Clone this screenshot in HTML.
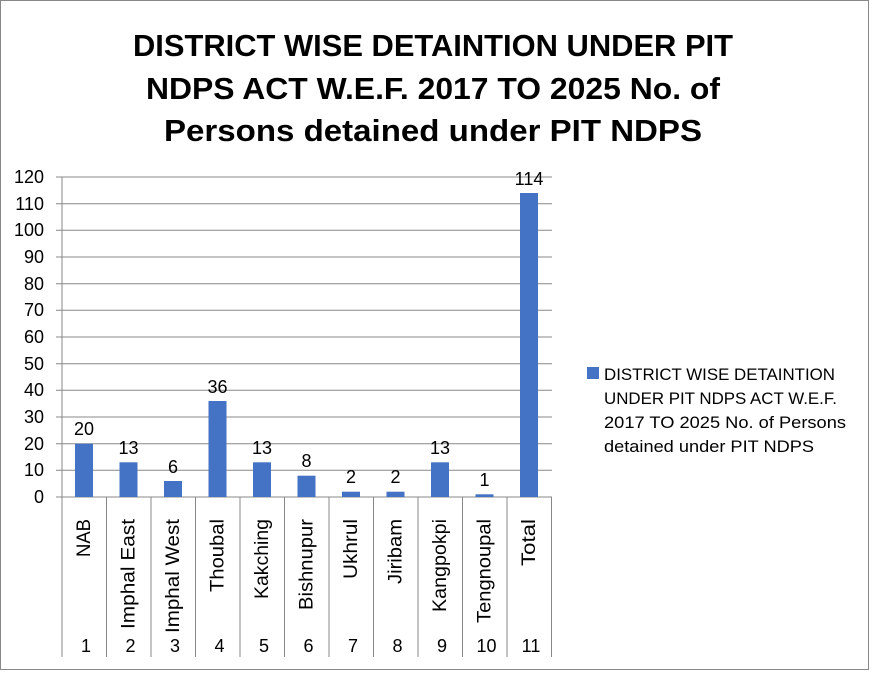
<!DOCTYPE html>
<html><head><meta charset="utf-8"><style>
body{margin:0;background:#fff}
svg{display:block;font-family:"Liberation Sans",Arial,sans-serif}
</style></head><body>
<svg width="873" height="682" viewBox="0 0 873 682" xmlns="http://www.w3.org/2000/svg">
<rect x="0.5" y="0.5" width="868" height="669" fill="#fff" stroke="#888" stroke-width="1"/>
<g font-weight="bold" font-size="31" text-anchor="middle" fill="#000">
<text x="433" y="56" textLength="600" lengthAdjust="spacingAndGlyphs">DISTRICT WISE DETAINTION UNDER PIT</text>
<text x="433" y="99" textLength="574" lengthAdjust="spacingAndGlyphs">NDPS ACT W.E.F. 2017 TO 2025 No. of</text>
<text x="433" y="141" textLength="538" lengthAdjust="spacingAndGlyphs">Persons detained under PIT NDPS</text>
</g>
<g stroke="#888" stroke-width="1">
<line x1="56" y1="177" x2="552" y2="177"/><line x1="56" y1="203.7" x2="552" y2="203.7"/>
<line x1="56" y1="230.3" x2="552" y2="230.3"/><line x1="56" y1="257" x2="552" y2="257"/>
<line x1="56" y1="283.7" x2="552" y2="283.7"/><line x1="56" y1="310.3" x2="552" y2="310.3"/>
<line x1="56" y1="337" x2="552" y2="337"/><line x1="56" y1="363.7" x2="552" y2="363.7"/>
<line x1="56" y1="390.3" x2="552" y2="390.3"/><line x1="56" y1="417" x2="552" y2="417"/>
<line x1="56" y1="443.7" x2="552" y2="443.7"/><line x1="56" y1="470.3" x2="552" y2="470.3"/>
<line x1="56" y1="497" x2="552" y2="497"/>
<line x1="62" y1="177" x2="62" y2="657"/>
<line x1="106.5" y1="497" x2="106.5" y2="657"/><line x1="151" y1="497" x2="151" y2="657"/>
<line x1="195.5" y1="497" x2="195.5" y2="657"/><line x1="240" y1="497" x2="240" y2="657"/>
<line x1="284.5" y1="497" x2="284.5" y2="657"/><line x1="329" y1="497" x2="329" y2="657"/>
<line x1="373.5" y1="497" x2="373.5" y2="657"/><line x1="418" y1="497" x2="418" y2="657"/>
<line x1="462.5" y1="497" x2="462.5" y2="657"/><line x1="507" y1="497" x2="507" y2="657"/>
<line x1="551.5" y1="497" x2="551.5" y2="657"/>
</g>
<g font-size="18" text-anchor="end" fill="#000">
<text x="44" y="183">120</text><text x="44" y="210">110</text><text x="44" y="236">100</text>
<text x="44" y="263">90</text><text x="44" y="290">80</text><text x="44" y="316">70</text>
<text x="44" y="343">60</text><text x="44" y="370">50</text><text x="44" y="396">40</text>
<text x="44" y="423">30</text><text x="44" y="450">20</text><text x="44" y="476">10</text>
<text x="44" y="503">0</text>
</g>
<g fill="#4472C4">
<rect x="75" y="443.7" width="18" height="53.3"/>
<rect x="119.5" y="462.3" width="18" height="34.7"/>
<rect x="164" y="481" width="18" height="16"/>
<rect x="208.5" y="401" width="18" height="96"/>
<rect x="253" y="462.3" width="18" height="34.7"/>
<rect x="297.5" y="475.7" width="18" height="21.3"/>
<rect x="342" y="491.7" width="18" height="5.3"/>
<rect x="386.5" y="491.7" width="18" height="5.3"/>
<rect x="431" y="462.3" width="18" height="34.7"/>
<rect x="475.5" y="494.3" width="18" height="2.7"/>
<rect x="520" y="193" width="18" height="304"/>
</g>
<g font-size="18" text-anchor="middle" fill="#000">
<text x="84" y="435">20</text><text x="128.5" y="454">13</text><text x="173" y="473">6</text>
<text x="217.5" y="393">36</text><text x="262" y="454">13</text><text x="306.5" y="467">8</text>
<text x="351" y="483">2</text><text x="395.5" y="483">2</text><text x="440" y="454">13</text>
<text x="484.5" y="486">1</text><text x="529" y="185">114</text>
</g>
<g font-size="19" fill="#000" text-anchor="end">
<text transform="translate(90,519) rotate(-90)" textLength="38" lengthAdjust="spacingAndGlyphs">NAB</text>
<text transform="translate(134.5,519) rotate(-90)" textLength="110" lengthAdjust="spacingAndGlyphs">Imphal East</text>
<text transform="translate(179,519) rotate(-90)" textLength="114" lengthAdjust="spacingAndGlyphs">Imphal West</text>
<text transform="translate(223.5,519) rotate(-90)" textLength="73" lengthAdjust="spacingAndGlyphs">Thoubal</text>
<text transform="translate(268,519) rotate(-90)" textLength="80" lengthAdjust="spacingAndGlyphs">Kakching</text>
<text transform="translate(312.5,519) rotate(-90)" textLength="91" lengthAdjust="spacingAndGlyphs">Bishnupur</text>
<text transform="translate(357,519) rotate(-90)" textLength="60" lengthAdjust="spacingAndGlyphs">Ukhrul</text>
<text transform="translate(401.5,519) rotate(-90)" textLength="65" lengthAdjust="spacingAndGlyphs">Jiribam</text>
<text transform="translate(446,519) rotate(-90)" textLength="93" lengthAdjust="spacingAndGlyphs">Kangpokpi</text>
<text transform="translate(490.5,519) rotate(-90)" textLength="104" lengthAdjust="spacingAndGlyphs">Tengnoupal</text>
<text transform="translate(535,519) rotate(-90)" textLength="47" lengthAdjust="spacingAndGlyphs">Total</text>
</g>
<g font-size="18" text-anchor="middle" fill="#000">
<text x="86" y="652">1</text><text x="130.5" y="652">2</text><text x="175" y="652">3</text>
<text x="219.5" y="652">4</text><text x="264" y="652">5</text><text x="308.5" y="652">6</text>
<text x="353" y="652">7</text><text x="397.5" y="652">8</text><text x="442" y="652">9</text>
<text x="486.5" y="652">10</text><text x="531" y="652">11</text>
</g>
<rect x="587" y="367" width="12" height="12" fill="#4472C4"/>
<g font-size="17" fill="#000">
<text x="604" y="380" textLength="231" lengthAdjust="spacingAndGlyphs">DISTRICT WISE DETAINTION</text>
<text x="604" y="404" textLength="233" lengthAdjust="spacingAndGlyphs">UNDER PIT NDPS ACT W.E.F.</text>
<text x="604" y="428" textLength="242" lengthAdjust="spacingAndGlyphs">2017 TO 2025 No. of Persons</text>
<text x="604" y="452" textLength="210" lengthAdjust="spacingAndGlyphs">detained under PIT NDPS</text>
</g>
</svg>
</body></html>
